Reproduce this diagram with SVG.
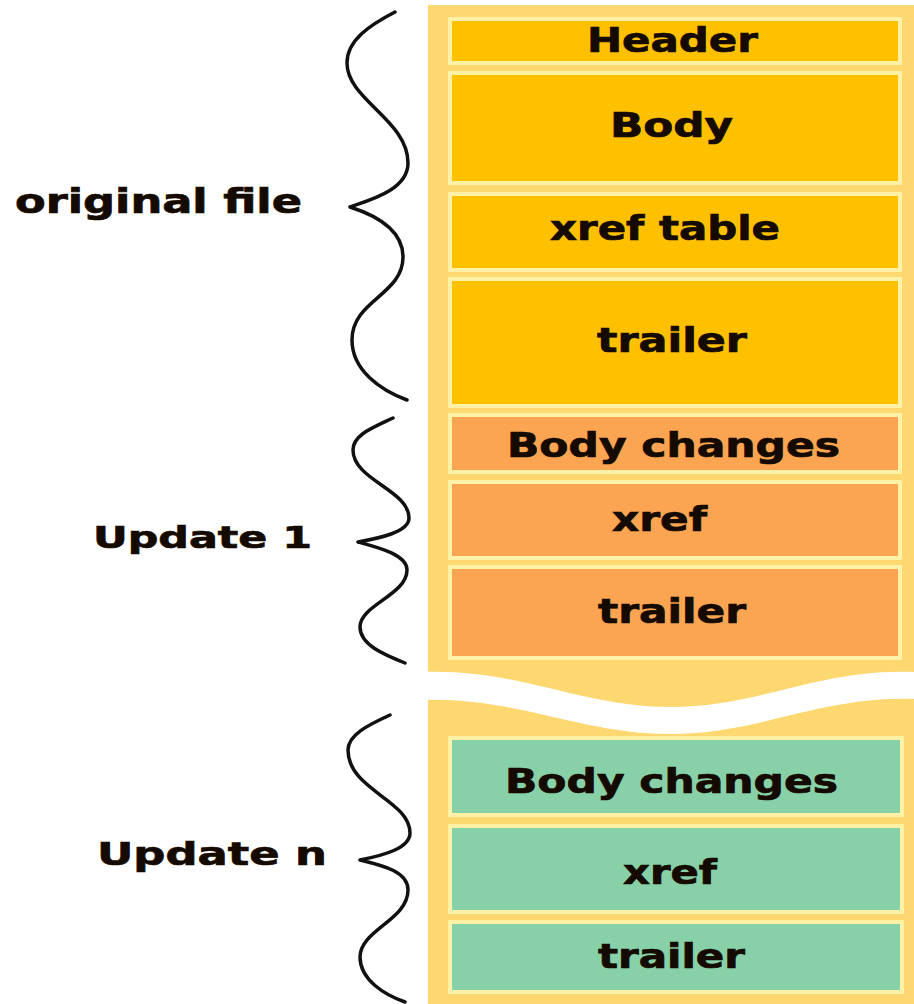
<svg xmlns="http://www.w3.org/2000/svg" width="914" height="1004" viewBox="0 0 914 1004">
<style>
.lbl{font-family:"DejaVu Sans","Liberation Sans",sans-serif;font-weight:bold;fill:#140a00;stroke:#140a00;stroke-width:0.7}
.box{stroke:#FFF1A6;stroke-width:4}
.y{fill:#FFC000}
.o{fill:#FBA451}
.g{fill:#88D1A8}
.brace{fill:none;stroke:#111;stroke-width:3.5;stroke-linecap:round;stroke-linejoin:round}
</style>
<rect width="914" height="1004" fill="#ffffff"/>
<g id="panel">
<rect x="428" y="5" width="486" height="999" fill="#FDD870"/>
<path d="M420,672 C520,668 580,707 670,707 C760,707 820,668 914,672 L914,699 C820,696 760,734 670,734 C580,734 520,697 420,700 Z" fill="#ffffff"/>
</g>
<g id="original-file">
<g id="header"><rect class="box y" x="450" y="19" width="450" height="44"/><text class="lbl" x="587" y="52" font-size="33" textLength="171" lengthAdjust="spacingAndGlyphs">Header</text></g>
<g id="body"><rect class="box y" x="450" y="73" width="450" height="110"/><text class="lbl" x="610" y="137" font-size="33" textLength="123" lengthAdjust="spacingAndGlyphs">Body</text></g>
<g id="xref-table"><rect class="box y" x="450" y="194" width="450" height="76"/><text class="lbl" x="550" y="240" font-size="33" textLength="230" lengthAdjust="spacingAndGlyphs">xref table</text></g>
<g id="trailer-0"><rect class="box y" x="450" y="279" width="450" height="127"/><text class="lbl" x="597" y="352" font-size="33" textLength="150" lengthAdjust="spacingAndGlyphs">trailer</text></g>
</g>
<g id="update-1">
<g id="body-changes-1"><rect class="box o" x="450" y="415" width="450" height="57"/><text class="lbl" x="507" y="457" font-size="33" textLength="333" lengthAdjust="spacingAndGlyphs">Body changes</text></g>
<g id="xref-1"><rect class="box o" x="450" y="482" width="450" height="76"/><text class="lbl" x="612" y="531" font-size="33" textLength="95" lengthAdjust="spacingAndGlyphs">xref</text></g>
<g id="trailer-1"><rect class="box o" x="450" y="567" width="450" height="91"/><text class="lbl" x="598" y="623" font-size="33" textLength="148" lengthAdjust="spacingAndGlyphs">trailer</text></g>
</g>
<g id="update-n">
<g id="body-changes-n"><rect class="box g" x="450" y="738" width="452" height="77"/><text class="lbl" x="505" y="793" font-size="33" textLength="333" lengthAdjust="spacingAndGlyphs">Body changes</text></g>
<g id="xref-n"><rect class="box g" x="450" y="826" width="452" height="86"/><text class="lbl" x="623" y="884" font-size="33" textLength="94" lengthAdjust="spacingAndGlyphs">xref</text></g>
<g id="trailer-n"><rect class="box g" x="450" y="922" width="452" height="70"/><text class="lbl" x="598" y="968" font-size="33" textLength="147" lengthAdjust="spacingAndGlyphs">trailer</text></g>
</g>
<g id="labels">
<g id="label-original"><text class="lbl" x="15" y="213" font-size="33" textLength="287" lengthAdjust="spacingAndGlyphs">original file</text></g>
<g id="label-update1"><text class="lbl" x="93" y="548" font-size="30" textLength="219" lengthAdjust="spacingAndGlyphs">Update 1</text></g>
<g id="label-updaten"><text class="lbl" x="97" y="865" font-size="32" textLength="230" lengthAdjust="spacingAndGlyphs">Update n</text></g>
</g>
<g id="connectors">
<path class="brace" d="M395,12 C370,25 347,40 347,63 C347,100 408,120 408,163 C408,190 370,200 350,207 C375,215 403,230 403,257 C403,295 352,300 352,340 C352,370 380,390 407,400"/>
<path class="brace" d="M393,418 C372,428 353,435 353,450 C353,480 409,490 409,518 C409,532 380,538 358,542 C380,548 407,555 407,570 C407,595 360,605 360,627 C360,645 385,655 405,663"/>
<path class="brace" d="M390,715 C368,725 348,735 348,750 C348,790 410,800 410,833 C410,848 385,855 360,860 C385,866 408,872 408,890 C408,920 360,930 360,957 C360,980 385,995 405,1002"/>
</g>
</svg>
